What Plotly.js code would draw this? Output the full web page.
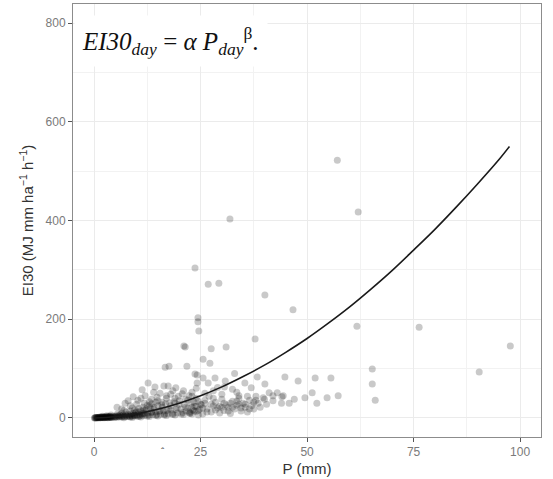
<!DOCTYPE html>
<html>
<head>
<meta charset="utf-8">
<script src="https://cdn.plot.ly/plotly-3.0.1.min.js"></script>
<style>html,body{margin:0;padding:0;background:#fff;}#chart{width:553px;height:479px;}</style>
</head>
<body>
<div id="chart"></div>
<script>
const pointsP = [
0.1,0.2,0.3,0.4,0.5,0.6,0.7,0.8,0.9,1.0,1.1,1.2,1.3,1.4,1.5,1.6,1.7,1.8,1.9,2.0,
2.1,2.2,2.3,2.4,2.5,2.6,2.7,2.8,2.9,3.0,3.1,3.2,3.3,3.4,3.5,3.6,3.7,3.8,3.9,4.0,
4.2,4.4,4.6,4.8,5.0,5.2,5.4,5.6,5.8,6.0,6.2,6.4,6.6,6.8,7.0,7.2,7.4,7.6,7.8,8.0,
8.2,8.4,8.6,8.8,9.0,9.2,9.4,9.6,9.8,10.0,10.2,10.4,10.6,10.8,11.0,11.2,11.4,11.6,11.8,12.0,
12.3,12.6,12.9,13.2,13.5,13.8,14.1,14.4,14.7,15.0,15.3,15.6,15.9,16.2,16.5,16.8,17.1,17.4,17.7,18.0,
18.4,18.8,19.2,19.6,20.0,20.4,20.8,21.2,21.6,22.0,22.4,22.8,23.2,23.6,24.0,24.4,24.8,25.2,5.5,6.5,
7.5,8.5,9.5,10.5,11.5,12.5,13.5,14.5,7.0,9.0,11.0,13.0,15.0,17.0,19.0,21.0,23.0,3.0,4.0,2.0,
5.4,7.3,9.2,10.3,11.3,12.7,12.0,13.5,14.3,14.8,15.5,16.4,17.4,17.0,18.0,18.5,19.2,19.8,20.7,21.5,
22.3,23.0,16.7,17.6,21.8,21.1,21.4,8.5,10.0,13.0,6.5,8.0,11.8,14.0,19.0,16.0,
22.5,23.0,23.5,24.0,24.5,25.0,25.5,26.0,26.5,27.0,27.5,28.0,28.5,29.0,29.5,30.0,30.5,31.0,31.5,32.0,
32.5,33.0,33.5,34.0,34.5,35.0,35.5,36.0,36.5,37.0,37.5,38.0,38.5,39.0,39.7,40.5,41.1,42.0,43.0,44.1,
44.4,45.8,47.0,49.5,51.2,52.3,54.7,57.3,26.0,28.0,30.0,32.5,34.0,24.0,29.0,33.5,
57.1,62.0,31.9,23.7,26.8,29.3,40.1,24.4,24.4,24.6,46.7,61.7,76.3,97.7,90.4,65.3,65.3,66.0,37.8,27.5,
31.0,25.6,27.2,23.7,24.2,25.6,24.2,26.8,28.4,30.8,30.6,35.4,36.9,38.3,40.1,44.8,47.9,51.9,55.6,33.0,
8.5,9.5,10.5,11.5,12.5,13.5,14.5,15.5,16.5,17.5,18.5,19.5,20.5,21.5,22.5,23.5,24.5,25.5,26.5,27.5,
28.5,29.5,30.5,31.5,32.5,33.5,34.5,35.5,36.5,37.5,12,14,16,18,20,22,24,10,13,15,
17,19,21,23,11,9,7,6,5,4,26,28,30,32,34,36,38,40,42,44
];
const pointsEI = [
0.2,0.5,0.1,0.8,0.3,1.0,0.2,0.6,1.2,0.4,0.9,1.5,0.3,0.7,1.8,0.5,1.1,2.0,0.8,1.4,
0.4,2.2,1.0,1.6,0.6,2.5,1.3,0.9,2.0,1.1,2.8,0.7,1.7,3.0,1.2,2.3,0.9,3.3,1.5,2.6,
1.0,3.6,2.0,1.3,3.9,2.4,1.6,4.5,2.9,1.8,5.0,3.2,2.1,5.8,3.5,2.4,6.4,4.0,2.8,7.0,
4.4,3.1,7.8,5.0,3.4,9.0,5.6,3.8,10.5,6.2,4.2,12.0,7.0,4.6,14.0,8.0,5.0,16.0,9.0,5.5,
18.0,10.0,6.0,20.0,11.0,6.5,22.0,12.0,7.0,25.0,13.0,7.5,27.0,14.0,8.0,29.0,15.0,8.5,31.0,16.0,
9.0,33.0,17.0,10.0,35.0,18.0,11.0,28.0,14.0,20.0,12.0,30.0,16.0,24.0,13.0,34.0,18.0,27.0,8.0,10.0,
12.0,14.0,16.0,19.0,22.0,26.0,29.0,32.0,0.5,1.0,2.0,3.0,4.0,5.0,6.0,7.0,8.0,4.5,6.0,3.5,
22,30,43,36,57,71,45,38,63,42,50,65,65,40,48,55,61,44,49,38,
45,52,103,105,105,146,144,25,28,33,18,35,30,52,30,32,
10,22,32,40,15,28,8,36,18,44,12,25,32,20,10,38,15,27,22,9,
34,18,26,40,14,30,22,12,36,25,18,44,30,22,41,28,51,35,51,43,
45,30,38,41,51,30,41,45,50,55,48,58,45,60,62,52,
522,417,403,304,271,273,249,203,195,176,219,186,184,146,93,99,69,36,160,140,
144,119,111,89,87,81,71,71,81,75,63,71,61,83,69,83,75,81,81,90,
2,6,3,9,4,12,5,15,6,18,7,20,8,22,9,14,6,20,12,28,
16,24,30,14,22,34,20,28,18,32,15,18,22,25,28,36,24,13,25,35,
45,40,55,44,40,20,15,6,2,1.5,30,40,22,30,28,44,36,38,45,30
];
// Fitted power-law curve EI30 = alpha * P^beta
const curveP  = [0, 5, 10, 15, 20, 25, 30, 35, 40, 45, 50, 55, 60, 65, 70, 75, 80, 85, 90, 95, 97.5];
const curveEI = [0, 2.4, 8.4, 17.7, 30, 45, 63, 84, 107, 133, 161, 192, 225, 261, 299, 340, 382, 427, 474, 523, 550];

const xTicks = [0, 25, 50, 75, 100];
const yTicks = [0, 200, 400, 600, 800];

const traces = [
  {
    type: 'scatter', mode: 'markers', x: pointsP, y: pointsEI,
    marker: {size: 7, color: 'rgba(0,0,0,0.21)', line: {width: 0}},
    hoverinfo: 'skip', showlegend: false
  },
  {
    type: 'scatter', mode: 'lines', x: curveP, y: curveEI,
    line: {color: '#1a1a1a', width: 1.6, shape: 'spline'},
    hoverinfo: 'skip', showlegend: false
  }
];

const axisCommon = {
  showline: true, mirror: true, linecolor: '#8c8c8c', linewidth: 1,
  ticks: 'outside', ticklen: 4, tickcolor: '#555', tickwidth: 1,
  gridcolor: '#ebebeb', gridwidth: 1, zeroline: false,
  tickfont: {family: 'Liberation Sans, Arial, sans-serif', size: 12, color: '#7a7a7a'}
};

const layout = {
  width: 553, height: 479,
  margin: {l: 73, r: 12, t: 4, b: 42},
  paper_bgcolor: '#fff', plot_bgcolor: '#fff',
  xaxis: Object.assign({}, axisCommon, {
    range: [-4.93, 104.9], tickvals: xTicks, ticktext: xTicks.map(String),
    minor: {tickvals: [12.5, 37.5, 62.5, 87.5], showgrid: true, gridcolor: '#f2f2f2', gridwidth: 1, ticks: ''},
    title: {text: 'P (mm)', font: {family: 'Liberation Sans, Arial, sans-serif', size: 15, color: '#333'}, standoff: 5}
  }),
  yaxis: Object.assign({}, axisCommon, {
    range: [-38.5, 838.5], tickvals: yTicks, ticktext: yTicks.map(String),
    minor: {tickvals: [100, 300, 500, 700], showgrid: true, gridcolor: '#f2f2f2', gridwidth: 1, ticks: ''},
    title: {text: 'EI30 (MJ mm ha<sup>\u22121</sup> h<sup>\u22121</sup>)', font: {family: 'Liberation Sans, Arial, sans-serif', size: 15, color: '#333'}, standoff: 8}
  }),
  annotations: [
    {
      xref: 'paper', yref: 'paper', x: 0.003, y: 0.975, xanchor: 'left', yanchor: 'top',
      text: '<i>EI30</i><sub><i>day</i></sub> = <i>\u03b1 P</i><sub><i>day</i></sub><sup>\u03b2</sup>.',
      showarrow: false, align: 'left', bgcolor: '#ffffff', borderpad: 7, width: 178,
      font: {family: 'Liberation Serif, DejaVu Serif, serif', size: 25, color: '#111'}
    },
    {
      xref: 'paper', yref: 'paper', x: (163 - 73) / 468, y: -0.035, xanchor: 'center', yanchor: 'middle',
      text: '\u02c6', showarrow: false, font: {family: 'Liberation Sans, Arial, sans-serif', size: 10, color: '#444'}
    }
  ]
};

Plotly.newPlot('chart', traces, layout, {displayModeBar: false, staticPlot: true});
</script>
</body>
</html>
